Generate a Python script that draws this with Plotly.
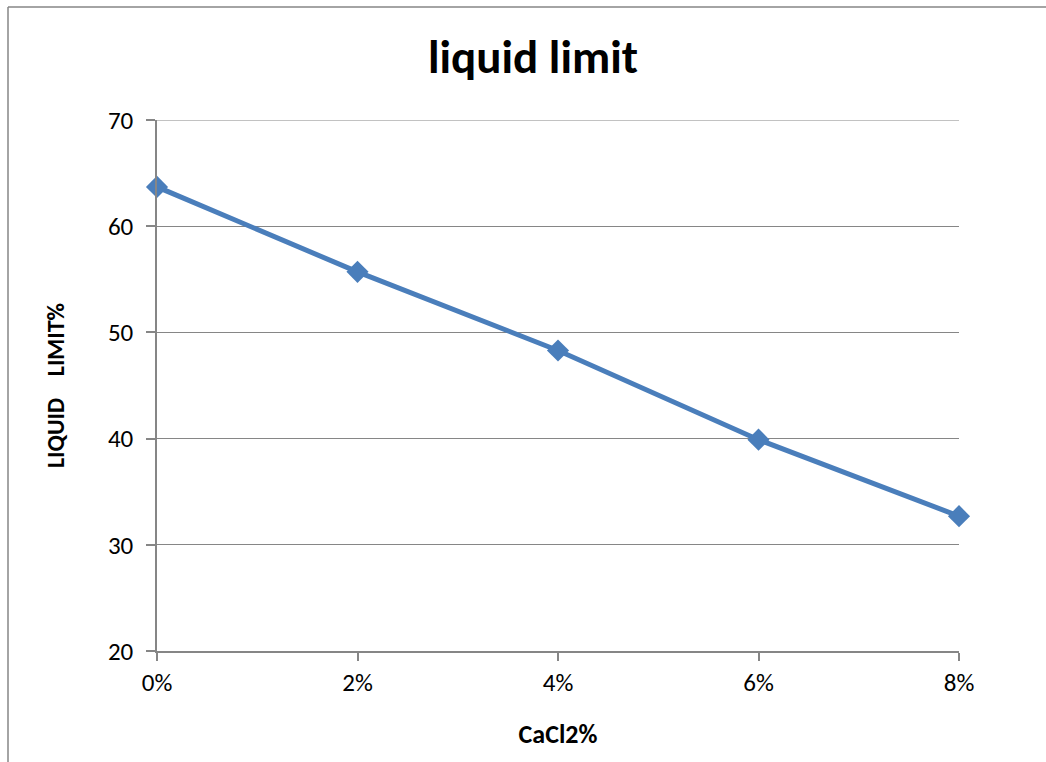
import plotly.graph_objects as go

categories = ["0%", "2%", "4%", "6%", "8%"]
cacl2_pct = [0, 2, 4, 6, 8]
liquid_limit = [63.7, 55.7, 48.3, 39.9, 32.7]
y_ticks = [20, 30, 40, 50, 60, 70]

FONT = "Calibri, Carlito, Lato, sans-serif"
GRAY = "#868686"
BLUE = "#4A7EBB"

fig = go.Figure()
fig.add_trace(go.Scatter(
    x=cacl2_pct, y=liquid_limit, mode="lines+markers",
    line=dict(color=BLUE, width=5),
    marker=dict(symbol="diamond", size=17, color=BLUE),
    cliponaxis=False, showlegend=False,
))

L, R, T, B = 157, 87, 120, 111
W, H = 1046, 762
pw, ph = W - L - R, H - T - B

fig.update_layout(
    width=W, height=H,
    margin=dict(l=L, r=R, t=T, b=B),
    paper_bgcolor="white", plot_bgcolor="white",
    font=dict(family=FONT, color="black"),
    title=dict(text="<b>liquid limit</b>", font=dict(size=47, family=FONT),
               x=(533 - L) / pw, xref="paper", xanchor="center",
               y=1 - 57 / H, yref="container", yanchor="middle"),
    xaxis=dict(
        range=[0, 8], tickvals=cacl2_pct, ticktext=categories,
        showgrid=False, zeroline=False,
        showline=True, linecolor=GRAY, linewidth=1.5,
        ticks="outside", ticklen=8, tickcolor=GRAY, tickwidth=1.5,
        tickfont=dict(size=25, family=FONT),
        title=dict(text="<b>CaCl2%</b>", font=dict(size=26, family=FONT), standoff=28),
    ),
    yaxis=dict(
        range=[20, 70], tickvals=y_ticks,
        showgrid=True, gridcolor=GRAY, gridwidth=1.2, zeroline=False,
        showline=True, linecolor=GRAY, linewidth=1.5,
        ticks="outside", ticklen=9, tickcolor=GRAY, tickwidth=1.5,
        ticklabelstandoff=8,
        tickfont=dict(size=25, family=FONT),
        title=dict(text="<b>LIQUID    LIMIT%</b>", font=dict(size=24, family=FONT), standoff=37),
    ),
)

# top gridline at the axis maximum (plotly hides gridlines on the plot edge)
fig.add_shape(type="line", xref="paper", yref="y", x0=0, x1=1, y0=max(y_ticks), y1=max(y_ticks),
              line=dict(color=GRAY, width=1.2), layer="below")

# chart-area border (left and top edges visible)
bx = (8 - L) / pw
by = (H - B - 7) / ph
fig.add_shape(type="line", xref="paper", yref="paper", x0=bx, x1=bx, y0=by, y1=-0.3,
              line=dict(color=GRAY, width=1.5))
fig.add_shape(type="line", xref="paper", yref="paper", x0=bx, x1=1.2, y0=by, y1=by,
              line=dict(color=GRAY, width=1.5))

fig.write_html("out.html")
